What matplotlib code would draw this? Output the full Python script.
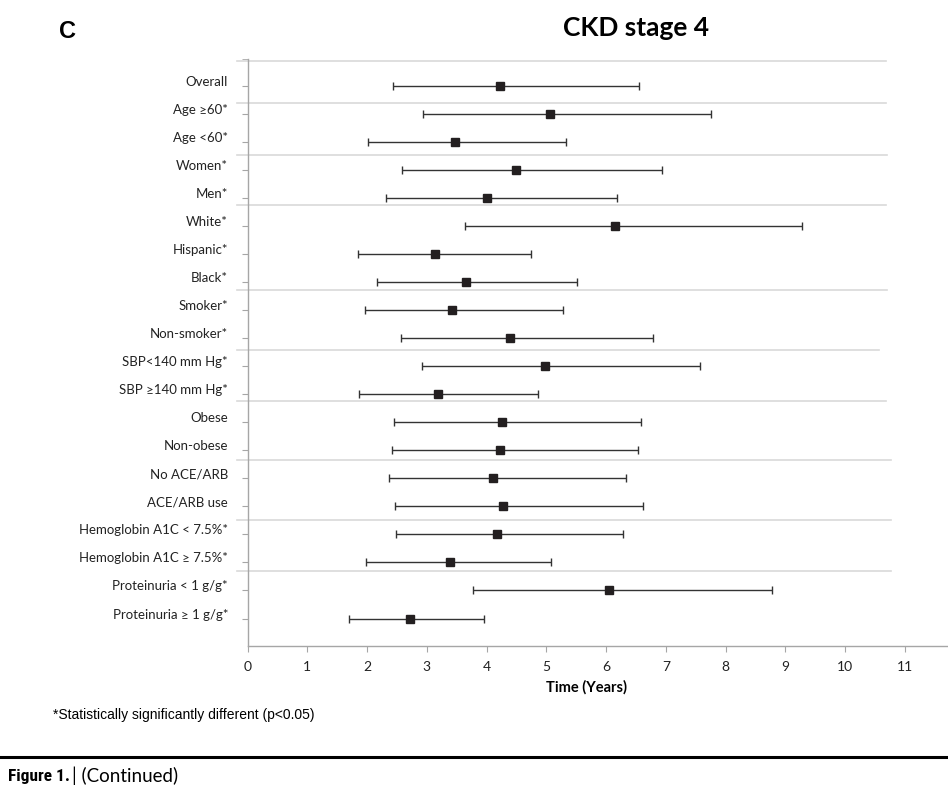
import matplotlib
matplotlib.use("Agg")
import matplotlib.pyplot as plt
from matplotlib.transforms import ScaledTranslation

labels = ["Overall", "Age \u226560*", "Age <60*", "Women*", "Men*", "White*",
          "Hispanic*", "Black*", "Smoker*", "Non-smoker*", "SBP<140 mm Hg*",
          "SBP \u2265140 mm Hg*", "Obese", "Non-obese", "No ACE/ARB", "ACE/ARB use",
          "Hemoglobin A1C < 7.5%*", "Hemoglobin A1C \u2265 7.5%*",
          "Proteinuria < 1 g/g*", "Proteinuria \u2265 1 g/g*"]
estimate = [4.22, 5.06, 3.47, 4.49, 4.01, 6.15, 3.14, 3.65, 3.42, 4.40,
            4.97, 3.19, 4.25, 4.22, 4.10, 4.27, 4.18, 3.38, 6.05, 2.72]
lower = [2.43, 2.94, 2.01, 2.59, 2.31, 3.64, 1.85, 2.16, 1.97, 2.57,
         2.92, 1.87, 2.45, 2.42, 2.37, 2.46, 2.48, 1.99, 3.77, 1.69]
upper = [6.55, 7.76, 5.33, 6.94, 6.18, 9.28, 4.74, 5.52, 5.28, 6.79,
         7.57, 4.86, 6.59, 6.54, 6.34, 6.61, 6.29, 5.08, 8.77, 3.96]

# group separator lines (row position, right end in years)
sep_rows = [-0.9, 0.62, 2.45, 4.25, 7.28, 9.42, 11.24, 13.36, 15.47, 17.3]
sep_ends = [10.68, 10.68, 10.70, 10.68, 10.70, 10.56, 10.68, 10.76, 10.76, 10.76]

label_font = "Lato"
axis_grey = "#a6a6a6"

fig = plt.figure(figsize=(9.48, 7.9), dpi=100)
ax = fig.add_axes([0.2611, 0.1823, 0.7376, 0.7426])

rows = list(range(len(labels)))
xerr = [[e - lo for e, lo in zip(estimate, lower)],
        [hi - e for e, hi in zip(estimate, upper)]]

for r, end in zip(sep_rows, sep_ends):
    ax.plot([-0.18, end], [r, r], color="#d9d9d9", lw=1.2, zorder=1, clip_on=False)

ax.errorbar(estimate, rows, xerr=xerr, fmt="none", ecolor="#333333",
            elinewidth=1.0, capsize=3, capthick=1.0, zorder=2)
ax.plot(estimate, rows, "s", color="#231f20", markersize=6, zorder=3)

ax.set_xlim(0, 11.7)
ax.set_ylim(19.98, -0.95)
ax.set_xticks(range(12))
ax.set_yticks(rows)
ax.set_yticklabels(labels)
ax.set_yticks([-0.95], minor=True)

for s in ["top", "right"]:
    ax.spines[s].set_visible(False)
for s in ["left", "bottom"]:
    ax.spines[s].set_color(axis_grey)
    ax.spines[s].set_linewidth(1.0)

ax.tick_params(axis="y", which="both", length=4, color=axis_grey, pad=10, labelsize=9.5)
ax.tick_params(axis="x", length=4, color=axis_grey, pad=7, labelsize=10)
for lab in ax.get_yticklabels():
    lab.set_fontfamily(label_font)
    lab.set_color("#222222")
    lab.set_transform(lab.get_transform() + ScaledTranslation(0, 5 / 100, fig.dpi_scale_trans))
for lab in ax.get_xticklabels():
    lab.set_fontfamily(label_font)
    lab.set_color("#222222")

ax.set_xlabel("Time (Years)", fontsize=10.5, fontweight="bold", fontfamily=label_font,
              labelpad=5)
ax.xaxis.label.set_x(0.485)

fig.text(636 / 948, 1 - 28 / 790, "CKD stage 4", ha="center", va="center",
         fontsize=19, fontweight="bold", fontfamily=label_font)
fig.text(68 / 948, 1 - 31 / 790, "C", ha="center", va="center",
         fontsize=17, fontweight="bold", fontfamily="Liberation Sans")

fig.text(53 / 948, 1 - 715 / 790, "*Statistically significantly different (p<0.05)",
         ha="left", va="center", fontsize=10, fontfamily="Liberation Sans")

fig.add_artist(plt.Line2D([0, 1], [1 - 757 / 790] * 2, color="black", lw=2.2,
                          transform=fig.transFigure))
fig.text(8 / 948, 1 - 776 / 790, "Figure 1.", ha="left", va="center",
         fontsize=12.5, fontweight="bold", fontfamily="Roboto Condensed")
fig.text(72 / 948, 1 - 776 / 790, "| (Continued)", ha="left", va="center",
         fontsize=13.5, fontfamily=label_font)

fig.savefig("out.png", dpi=100)
